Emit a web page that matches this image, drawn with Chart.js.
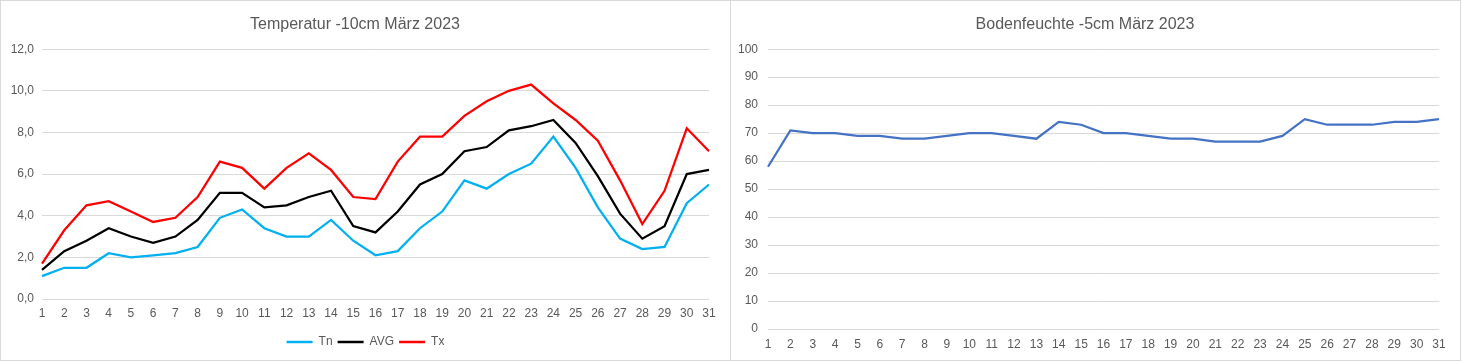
<!DOCTYPE html>
<html>
<head>
<meta charset="utf-8">
<script src="https://cdn.jsdelivr.net/npm/chart.js@4/dist/chart.umd.min.js"></script>
<style>
    body { margin: 0; background: #fff; }
    .panel { position: absolute; top: 0; width: 729px; height: 359px; border: 1px solid #d9d9d9; border-right: none; background: #fff; }
    #leftPanel { left: 0; }
    #rightPanel { left: 730px; border-right: 1px solid #d9d9d9; }
    canvas { display: block; }
</style>
</head>
<body>
<div class="panel" id="leftPanel"><canvas id="tempChart" width="729" height="359"></canvas></div>
<div class="panel" id="rightPanel"><canvas id="soilChart" width="729" height="359"></canvas></div>
<script>
const days = ['1','2','3','4','5','6','7','8','9','10','11','12','13','14','15','16','17','18','19','20','21','22','23','24','25','26','27','28','29','30','31'];

const tempMin = [1.1, 1.5, 1.5, 2.2, 2.0, 2.1, 2.2, 2.5, 3.9, 4.3, 3.4, 3.0, 3.0, 3.8, 2.8, 2.1, 2.3, 3.4, 4.2, 5.7, 5.3, 6.0, 6.5, 7.8, 6.3, 4.4, 2.9, 2.4, 2.5, 4.6, 5.5];
const tempAvg = [1.4, 2.3, 2.8, 3.4, 3.0, 2.7, 3.0, 3.8, 5.1, 5.1, 4.4, 4.5, 4.9, 5.2, 3.5, 3.2, 4.2, 5.5, 6.0, 7.1, 7.3, 8.1, 8.3, 8.6, 7.5, 5.9, 4.1, 2.9, 3.5, 6.0, 6.2];
const tempMax = [1.7, 3.3, 4.5, 4.7, 4.2, 3.7, 3.9, 4.9, 6.6, 6.3, 5.3, 6.3, 7.0, 6.2, 4.9, 4.8, 6.6, 7.8, 7.8, 8.8, 9.5, 10.0, 10.3, 9.4, 8.6, 7.6, 5.7, 3.6, 5.2, 8.2, 7.1];

const soilMoisture = [58, 71, 70, 70, 69, 69, 68, 68, 69, 70, 70, 69, 68, 74, 73, 70, 70, 69, 68, 68, 67, 67, 67, 69, 75, 73, 73, 73, 74, 74, 75];

const textColor = '#595959';
const gridColor = '#d9d9d9';
const fontFamily = '"Liberation Sans", Arial, sans-serif';

Chart.defaults.font.family = fontFamily;
Chart.defaults.color = textColor;
Chart.defaults.animation = false;

function lineSet(label, data, color) {
    return {
        label: label,
        data: data,
        borderColor: color,
        backgroundColor: color,
        borderWidth: 2.25,
        pointRadius: 0,
        tension: 0
    };
}

// center the legend on the whole canvas, not just the padded area
const legendCenter = {
    id: 'legendCenter',
    afterLayout: function (chart) {
        if (chart.legend) {
            chart.legend.left = 0;
            chart.legend.right = chart.width;
            chart.legend.width = chart.width;
        }
    }
};

new Chart(document.getElementById('tempChart').getContext('2d'), {
    type: 'line',
    data: {
        labels: days,
        datasets: [
            lineSet('Tn', tempMin, '#00b0f0'),
            lineSet('AVG', tempAvg, '#000000'),
            lineSet('Tx', tempMax, '#ff0000')
        ]
    },
    plugins: [legendCenter],
    options: {
        responsive: false,
        layout: { padding: { left: 0, right: 21, top: 0, bottom: 2 } },
        plugins: {
            title: {
                display: true,
                text: 'Temperatur -10cm März 2023',
                color: textColor,
                font: { size: 16, weight: 'normal' },
                padding: { top: 14, bottom: 15 }
            },
            legend: {
                position: 'bottom',
                labels: {
                    boxWidth: 26,
                    boxHeight: 2.5,
                    padding: 5,
                    color: textColor,
                    font: { size: 12 },
                    generateLabels: function (chart) {
                        return Chart.defaults.plugins.legend.labels.generateLabels(chart).map(function (item) {
                            item.lineWidth = 0;
                            return item;
                        });
                    }
                }
            },
            tooltip: { enabled: false }
        },
        scales: {
            x: {
                grid: { display: false, drawTicks: false },
                border: { display: false },
                ticks: { padding: 7, maxRotation: 0, autoSkip: false, font: { size: 12 } },
                afterFit: function (scale) { scale.height = 32; }
            },
            y: {
                min: 0,
                max: 12,
                grid: { color: gridColor, drawTicks: false },
                border: { display: false },
                ticks: {
                    stepSize: 2,
                    padding: 8,
                    font: { size: 12 },
                    callback: function (v) { return v.toFixed(1).replace('.', ','); }
                },
                afterFit: function (scale) { scale.width = 41; }
            }
        }
    }
});

new Chart(document.getElementById('soilChart').getContext('2d'), {
    type: 'line',
    data: {
        labels: days,
        datasets: [lineSet('Bodenfeuchte', soilMoisture, '#4472c4')]
    },
    options: {
        responsive: false,
        layout: { padding: { left: 0, right: 21, top: 0, bottom: 0 } },
        plugins: {
            title: {
                display: true,
                text: 'Bodenfeuchte -5cm März 2023',
                color: textColor,
                font: { size: 16, weight: 'normal' },
                padding: { top: 14, bottom: 15 }
            },
            legend: { display: false },
            tooltip: { enabled: false }
        },
        scales: {
            x: {
                grid: { display: false, drawTicks: false },
                border: { display: false },
                ticks: { padding: 8, maxRotation: 0, autoSkip: false, font: { size: 12 } },
                afterFit: function (scale) { scale.height = 31; }
            },
            y: {
                min: 0,
                max: 100,
                grid: { color: gridColor, drawTicks: false },
                border: { display: false },
                ticks: { stepSize: 10, padding: 10, font: { size: 12 } },
                afterFit: function (scale) { scale.width = 37; }
            }
        }
    }
});
</script>
</body>
</html>
